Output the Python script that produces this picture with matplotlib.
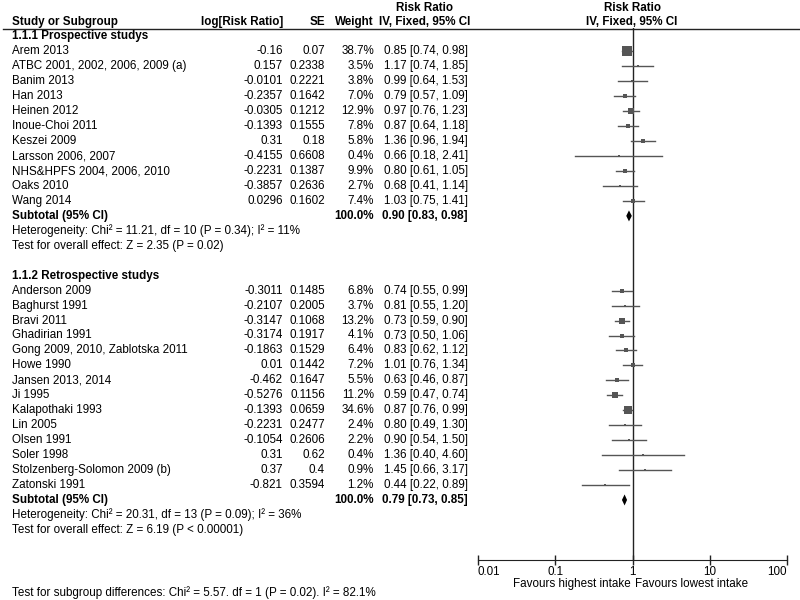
import matplotlib
matplotlib.use("Agg")
import matplotlib.pyplot as plt
import numpy as np

plt.rcParams['font.family'] = ['Liberation Sans', 'DejaVu Sans']

# prospective studies
pro_names = ["Arem 2013", "ATBC 2001, 2002, 2006, 2009 (a)", "Banim 2013", "Han 2013",
             "Heinen 2012", "Inoue-Choi 2011", "Keszei 2009", "Larsson 2006, 2007",
             "NHS&HPFS 2004, 2006, 2010", "Oaks 2010", "Wang 2014"]
pro_logrr = ["-0.16", "0.157", "-0.0101", "-0.2357", "-0.0305", "-0.1393", "0.31",
             "-0.4155", "-0.2231", "-0.3857", "0.0296"]
pro_se = ["0.07", "0.2338", "0.2221", "0.1642", "0.1212", "0.1555", "0.18", "0.6608",
          "0.1387", "0.2636", "0.1602"]
pro_weight = [38.7, 3.5, 3.8, 7.0, 12.9, 7.8, 5.8, 0.4, 9.9, 2.7, 7.4]
pro_rr = [0.85, 1.17, 0.99, 0.79, 0.97, 0.87, 1.36, 0.66, 0.80, 0.68, 1.03]
pro_lo = [0.74, 0.74, 0.64, 0.57, 0.76, 0.64, 0.96, 0.18, 0.61, 0.41, 0.75]
pro_hi = [0.98, 1.85, 1.53, 1.09, 1.23, 1.18, 1.94, 2.41, 1.05, 1.14, 1.41]
pro_total = (0.90, 0.83, 0.98)
pro_het = "Heterogeneity: Chi² = 11.21, df = 10 (P = 0.34); I² = 11%"
pro_test = "Test for overall effect: Z = 2.35 (P = 0.02)"

# retrospective studies
ret_names = ["Anderson 2009", "Baghurst 1991", "Bravi 2011", "Ghadirian 1991",
             "Gong 2009, 2010, Zablotska 2011", "Howe 1990", "Jansen 2013, 2014", "Ji 1995",
             "Kalapothaki 1993", "Lin 2005", "Olsen 1991", "Soler 1998",
             "Stolzenberg-Solomon 2009 (b)", "Zatonski 1991"]
ret_logrr = ["-0.3011", "-0.2107", "-0.3147", "-0.3174", "-0.1863", "0.01", "-0.462",
             "-0.5276", "-0.1393", "-0.2231", "-0.1054", "0.31", "0.37", "-0.821"]
ret_se = ["0.1485", "0.2005", "0.1068", "0.1917", "0.1529", "0.1442", "0.1647", "0.1156",
          "0.0659", "0.2477", "0.2606", "0.62", "0.4", "0.3594"]
ret_weight = [6.8, 3.7, 13.2, 4.1, 6.4, 7.2, 5.5, 11.2, 34.6, 2.4, 2.2, 0.4, 0.9, 1.2]
ret_rr = [0.74, 0.81, 0.73, 0.73, 0.83, 1.01, 0.63, 0.59, 0.87, 0.80, 0.90, 1.36, 1.45, 0.44]
ret_lo = [0.55, 0.55, 0.59, 0.50, 0.62, 0.76, 0.46, 0.47, 0.76, 0.49, 0.54, 0.40, 0.66, 0.22]
ret_hi = [0.99, 1.20, 0.90, 1.06, 1.12, 1.34, 0.87, 0.74, 0.99, 1.30, 1.50, 4.60, 3.17, 0.89]
ret_total = (0.79, 0.73, 0.85)
ret_het = "Heterogeneity: Chi² = 20.31, df = 13 (P = 0.09); I² = 36%"
ret_test = "Test for overall effect: Z = 6.19 (P < 0.00001)"

subgroup_test = "Test for subgroup differences: Chi² = 5.57. df = 1 (P = 0.02). I² = 82.1%"
ticks = [0.01, 0.1, 1, 10, 100]
tick_labels = ["0.01", "0.1", "1", "10", "100"]

FS = 8.4
ROW0 = 36.5
STEP = 14.95
GREY = "#555555"
DARK = "#222222"

# column anchors (pixels)
X_NAME = 12
X_LOGRR = 283
X_SE = 325
X_W = 374
X_CI = 468


def row_y(i):
    return ROW0 + STEP * i


fig = plt.figure(figsize=(8, 6), dpi=100)
ax = fig.add_axes([0, 0, 1, 1])
ax.set_xlim(0, 800)
ax.set_ylim(600, 0)
ax.axis("off")

# forest axis: pixels 478..787 horizontally, 28..560 vertically
fax = fig.add_axes([478 / 800, 40 / 600, 309 / 800, 532 / 600])
fax.set_xscale("log")
fax.set_xlim(0.01, 100)
fax.set_ylim(560, 28)
fax.patch.set_alpha(0)
for s in ["top", "left", "right"]:
    fax.spines[s].set_visible(False)
fax.spines["bottom"].set_color(DARK)
fax.set_yticks([])
fax.set_xticks(ticks)
fax.set_xticklabels(tick_labels, fontsize=FS)
fax.xaxis.set_minor_locator(matplotlib.ticker.NullLocator())
fax.tick_params(axis="x", direction="inout", length=7, width=1, color=DARK, pad=1)
labs = fax.get_xticklabels()
labs[0].set_ha("left")
labs[-1].set_ha("right")
fax.axvline(1, color=DARK, lw=1)
fax.text(0.94, 578, "Favours highest intake", ha="right", va="top", fontsize=FS)
fax.text(1.07, 578, "Favours lowest intake", ha="left", va="top", fontsize=FS)

# headers
ax.text(424, 8, "Risk Ratio", ha="center", va="center", fontsize=FS, fontweight="bold")
ax.text(632, 8, "Risk Ratio", ha="center", va="center", fontsize=FS, fontweight="bold")
hy = 22
ax.text(X_NAME, hy, "Study or Subgroup", ha="left", va="center", fontsize=FS, fontweight="bold")
ax.text(X_LOGRR, hy, "log[Risk Ratio]", ha="right", va="center", fontsize=FS, fontweight="bold")
ax.text(X_SE, hy, "SE", ha="right", va="center", fontsize=FS, fontweight="bold")
ax.text(X_W, hy, "Weight", ha="right", va="center", fontsize=FS, fontweight="bold")
ax.text(425, hy, "IV, Fixed, 95% CI", ha="center", va="center", fontsize=FS, fontweight="bold")
ax.text(632, hy, "IV, Fixed, 95% CI", ha="center", va="center", fontsize=FS, fontweight="bold")
ax.plot([3, 800], [28.5, 28.5], color=DARK, lw=1)


def draw_group(start, title, names, logrr, se, weight, rr, lo, hi, total, het, test):
    ax.text(X_NAME, row_y(start), title, ha="left", va="center", fontsize=FS, fontweight="bold")
    for k in range(len(names)):
        y = row_y(start + 1 + k)
        ax.text(X_NAME, y, names[k], ha="left", va="center", fontsize=FS)
        ax.text(X_LOGRR, y, logrr[k], ha="right", va="center", fontsize=FS)
        ax.text(X_SE, y, se[k], ha="right", va="center", fontsize=FS)
        ax.text(X_W, y, "%.1f%%" % weight[k], ha="right", va="center", fontsize=FS)
        ax.text(X_CI, y, "%.2f [%.2f, %.2f]" % (rr[k], lo[k], hi[k]), ha="right",
                va="center", fontsize=FS)
        fax.plot([lo[k], hi[k]], [y, y], color=GREY, lw=1)
        side = max(9.5 * np.sqrt(weight[k] / 38.7), 2.0) * 0.72
        fax.plot(rr[k], y, marker="s", ms=side, color=GREY, mec=GREY, mew=0)
    y = row_y(start + 1 + len(names))
    ax.text(X_NAME, y, "Subtotal (95% CI)", ha="left", va="center", fontsize=FS, fontweight="bold")
    ax.text(X_W, y, "100.0%", ha="right", va="center", fontsize=FS, fontweight="bold")
    ax.text(X_CI, y, "%.2f [%.2f, %.2f]" % total, ha="right", va="center", fontsize=FS,
            fontweight="bold")
    est, tlo, thi = total
    fax.fill([tlo, est, thi, est], [y, y - 5.5, y, y + 5.5], color="black", lw=0)
    ax.text(X_NAME, row_y(start + 2 + len(names)), het, ha="left", va="center", fontsize=FS)
    ax.text(X_NAME, row_y(start + 3 + len(names)), test, ha="left", va="center", fontsize=FS)


draw_group(0, "1.1.1 Prospective studys", pro_names, pro_logrr, pro_se, pro_weight,
           pro_rr, pro_lo, pro_hi, pro_total, pro_het, pro_test)
draw_group(16, "1.1.2 Retrospective studys", ret_names, ret_logrr, ret_se, ret_weight,
           ret_rr, ret_lo, ret_hi, ret_total, ret_het, ret_test)

ax.text(X_NAME, 593, subgroup_test, ha="left", va="center", fontsize=FS)

fig.savefig("out.png", dpi=100)
